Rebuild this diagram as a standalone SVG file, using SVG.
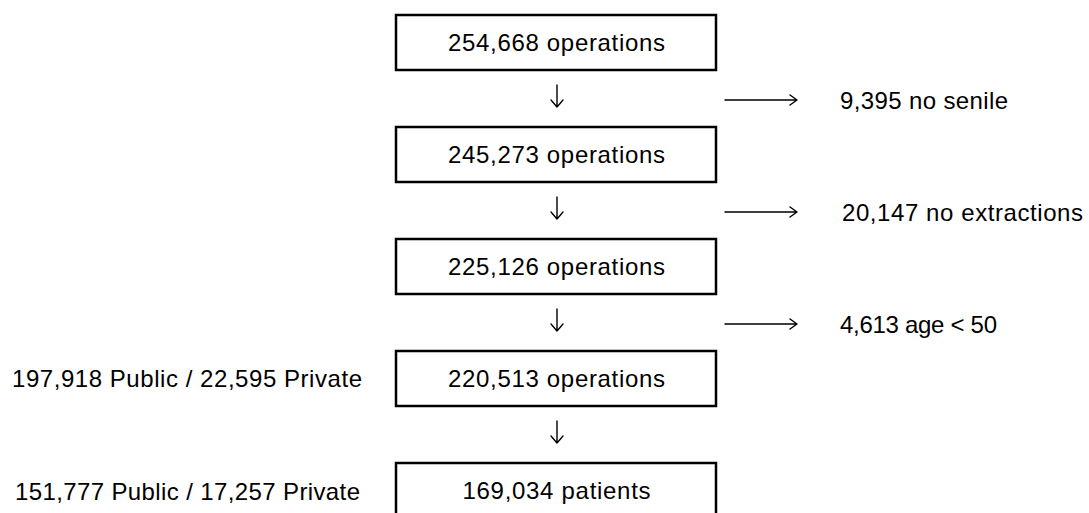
<svg xmlns="http://www.w3.org/2000/svg" width="1089" height="513" viewBox="0 0 1089 513">
<style>
.box{fill:#fff;stroke:#000;stroke-width:2.5}
.t{font-family:"Comic Sans MS","Liberation Sans",Arial,sans-serif;font-size:24px;fill:#000}
.c{text-anchor:middle}
.ln{stroke:#000;stroke-width:1.4;fill:none;stroke-linecap:round;stroke-linejoin:round}
</style>
<rect width="1089" height="513" fill="#fff"/>
<g id="n1"><rect class="box" x="396" y="15" width="320" height="55"/><text class="t c" x="556.5" y="51" textLength="217">254,668 operations</text></g>
<g id="n2"><rect class="box" x="396" y="127" width="320" height="55"/><text class="t c" x="556.5" y="163" textLength="217">245,273 operations</text></g>
<g id="n3"><rect class="box" x="396" y="239" width="320" height="55"/><text class="t c" x="556.5" y="275" textLength="217">225,126 operations</text></g>
<g id="n4"><rect class="box" x="396" y="351" width="320" height="55"/><text class="t c" x="556.5" y="387" textLength="217">220,513 operations</text></g>
<g id="n5"><rect class="box" x="396" y="463" width="320" height="60"/><text class="t c" x="556.5" y="499" textLength="188">169,034 patients</text></g>
<g id="e1"><text class="t" x="840" y="109" textLength="168">9,395 no senile</text></g>
<g id="e2"><text class="t" x="842" y="221" textLength="241">20,147 no extractions</text></g>
<g id="e3"><text class="t" x="840" y="333" textLength="157">4,613 age &lt; 50</text></g>
<g id="s1"><text class="t" x="12" y="387" textLength="350">197,918 Public / 22,595 Private</text></g>
<g id="s2"><text class="t" x="15" y="500" textLength="345">151,777 Public / 17,257 Private</text></g>
<g id="connectors">
<path class="ln" d="M557,85V107M551,100L557,107L563,100"/>
<path class="ln" d="M557,197V219M551,212L557,219L563,212"/>
<path class="ln" d="M557,309V331M551,324L557,331L563,324"/>
<path class="ln" d="M557,421V443M551,436L557,443L563,436"/>
<path class="ln" d="M725,100H797M790,95L797,100L790,105"/>
<path class="ln" d="M725,212H797M790,207L797,212L790,217"/>
<path class="ln" d="M725,324H797M790,319L797,324L790,329"/>
</g>
</svg>
